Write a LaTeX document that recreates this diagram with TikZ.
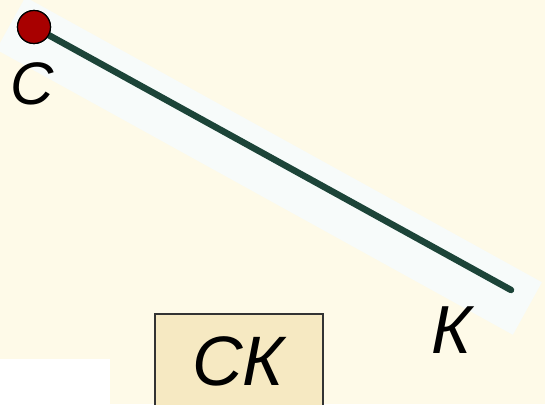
\documentclass[tikz,border=0pt]{standalone}
\usepackage{fontspec}
\setmainfont{Liberation Sans}
\begin{document}
\begin{tikzpicture}[x=1pt,y=-1pt]
\tikzset{
  lbl/.style={font=\fontsize{60}{60}\selectfont\itshape, inner sep=0pt},
  dot/.style={circle, draw=black, line width=1.2pt, fill=dotred, minimum size=33pt, inner sep=0pt},
}
\definecolor{bgcream}{HTML}{FEFAE8}
\definecolor{boxfill}{HTML}{F6E9C2}
\definecolor{dotred}{HTML}{A80000}
\definecolor{linegreen}{HTML}{1C4438}
\definecolor{glow}{HTML}{F7FBFA}
\useasboundingbox (0,0) rectangle (545,404);
\fill[bgcream] (0,0) rectangle (545,404);
\fill[white] (0,359) rectangle (110,404);
% glow band along the segment
\begin{scope}[shift={(34,27)}, rotate=-28.9]
\fill[glow] (-22,-22) rectangle (568,38);
\end{scope}
\coordinate (K) at (511,290);
\node[dot] (C) at (34,27) {};
\draw[linegreen, line width=6.5pt, line cap=round] (C.center) -- (K);
\node[dot] at (C) {};
\node[lbl] (labC) at (32,84) {С};
\node[lbl, font=\fontsize{68}{68}\selectfont\itshape] (labK) at (452,330) {К};
\node[draw=black!80, line width=1.5pt, fill=boxfill, minimum width=168pt, minimum height=110pt,
  anchor=north west] (box) at (154,313) {};
\node[lbl, font=\fontsize{70}{70}\selectfont\itshape] (labCK) at (238,361) {СК};
\end{tikzpicture}
\end{document}
